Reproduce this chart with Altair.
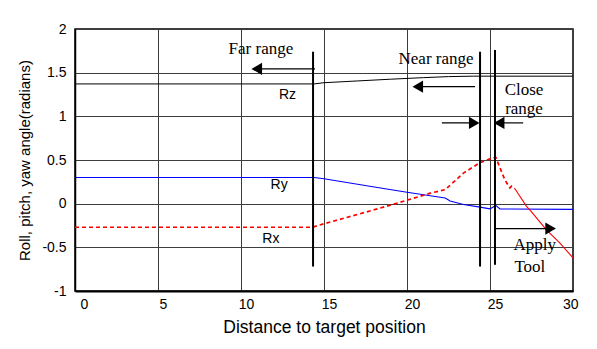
import altair as alt
import pandas as pd

# ---- series data ----
rz_x = [0, 14.4, 15, 17, 19, 21, 22.5, 24, 30]
rz_y = [1.371, 1.371, 1.385, 1.405, 1.425, 1.443, 1.455, 1.46, 1.46]

ry_x = [0, 14.4, 15, 18.4, 20, 21.4, 22.3, 22.6, 23.4, 24.4, 25, 25.35, 25.6, 30]
ry_y = [0.30, 0.30, 0.285, 0.18, 0.13, 0.09, 0.065, 0.03, -0.01, -0.04, -0.06, -0.02, -0.06, -0.065]

rx_dash_x = [0, 14.3, 15, 18.4, 20, 21.4, 22.3, 23.4, 24.4, 25.1, 25.35, 25.6, 25.9, 26.2, 26.3, 26.5]
rx_dash_y = [-0.27, -0.27, -0.23, -0.05, 0.04, 0.12, 0.16, 0.35, 0.47, 0.52, 0.53, 0.41, 0.27, 0.18, 0.20, 0.17]
rx_solid_x = [26.5, 27.2, 27.4, 28.4, 29.2, 30]
rx_solid_y = [0.17, -0.03, -0.07, -0.30, -0.45, -0.62]

# ---- annotations ----
vline_x = [14.34, 24.4, 25.3]
vline_top = [1.74, 1.74, 1.76]
vline_bot = [-0.72, -0.72, -0.70]

arrow_from = [14.46, 24.1, 22.1, 27.0, 25.3]
arrow_to = [10.95, 20.65, 24.05, 25.55, 28.65]
arrow_y = [1.543, 1.34, 0.925, 0.925, -0.285]
arrow_dir = ["left", "left", "right", "left", "right"]

note_text = ["Far range", "Near range", "Close", "range", "Apply", "Tool"]
note_x = [11.2, 21.75, 27.05, 27.05, 27.7, 27.4]
note_y = [1.77, 1.66, 1.30, 1.08, -0.47, -0.72]

series_text = ["Rz", "Ry", "Rx"]
series_tx = [12.8, 12.3, 11.8]
series_ty = [1.245, 0.21, -0.40]

x_ticks = [0, 5, 10, 15, 20, 25, 30]
y_ticks = [-1, -0.5, 0, 0.5, 1, 1.5, 2]

xs = alt.Scale(domain=[0, 30], nice=False, zero=False)
ys = alt.Scale(domain=[-1, 2], nice=False, zero=False)

X = alt.X("x:Q", scale=xs, axis=alt.Axis(values=x_ticks, title="Distance to target position",
                                          grid=True, ticks=False, labelOffset=5, labelPadding=6,
                                          titlePadding=7, titleFontSize=17.5,
                                          domainWidth=2, domainColor="black"))
Y = alt.Y("y:Q", scale=ys, axis=alt.Axis(values=y_ticks, title="Roll, pitch, yaw angle(radians)",
                                          grid=True, ticks=False, labelPadding=9, titlePadding=9,
                                          labelExpr="datum.value + ''",
                                          domainWidth=1.5, domainColor="black"))

rz_df = pd.DataFrame({"x": rz_x, "y": rz_y})
ry_df = pd.DataFrame({"x": ry_x, "y": ry_y})
rxd_df = pd.DataFrame({"x": rx_dash_x, "y": rx_dash_y})
rxs_df = pd.DataFrame({"x": rx_solid_x, "y": rx_solid_y})

base_axes = alt.Chart(rz_df).mark_line(color="black", strokeWidth=1).encode(x=X, y=Y)
ry_line = alt.Chart(ry_df).mark_line(color="#0000ff", strokeWidth=1.1).encode(x="x:Q", y="y:Q")
rx_dash = alt.Chart(rxd_df).mark_line(color="#ff0000", strokeWidth=1.7, strokeDash=[4, 3]).encode(x="x:Q", y="y:Q")
rx_solid = alt.Chart(rxs_df).mark_line(color="#ff0000", strokeWidth=1.1).encode(x="x:Q", y="y:Q")

vl_df = pd.DataFrame({"x": vline_x, "y": vline_top, "y2": vline_bot})
vlines = alt.Chart(vl_df).mark_rule(color="black", strokeWidth=2).encode(x="x:Q", y="y:Q", y2="y2:Q")

ar_df = pd.DataFrame({"x": arrow_from, "x2": arrow_to, "y": arrow_y, "dir": arrow_dir})
ar_lines = alt.Chart(ar_df).mark_rule(color="black", strokeWidth=1.2).encode(x="x:Q", x2="x2:Q", y="y:Q")
ar_left = alt.Chart(ar_df).transform_filter(alt.datum.dir == "left").mark_point(
    shape="triangle-left", filled=True, color="black", opacity=1, size=150).encode(x="x2:Q", y="y:Q")
ar_right = alt.Chart(ar_df).transform_filter(alt.datum.dir == "right").mark_point(
    shape="triangle-right", filled=True, color="black", opacity=1, size=150).encode(x="x2:Q", y="y:Q")

nt_df = pd.DataFrame({"t": note_text, "x": note_x, "y": note_y})
notes = alt.Chart(nt_df).mark_text(font="Liberation Serif", fontSize=17, color="black",
                                   align="center", baseline="middle").encode(x="x:Q", y="y:Q", text="t:N")

st_df = pd.DataFrame({"t": series_text, "x": series_tx, "y": series_ty})
slabels = alt.Chart(st_df).mark_text(font="Liberation Sans", fontSize=14, color="black",
                                     align="center", baseline="middle").encode(x="x:Q", y="y:Q", text="t:N")

chart = alt.layer(base_axes, ry_line, rx_dash, rx_solid, vlines, ar_lines, ar_left, ar_right,
                  notes, slabels).properties(
    width=498, height=262, autosize="none",
    padding={"left": 75, "top": 29, "right": 24, "bottom": 58},
    background="white",
).configure_view(stroke="black", strokeWidth=1.5).configure_axis(
    labelFont="Liberation Sans", labelFontSize=14, labelColor="black",
    titleFont="Liberation Sans", titleFontSize=15, titleColor="black", titleFontWeight="normal",
    gridColor="#3c3c3c", gridWidth=1, gridOpacity=1,
)

chart.save("out.html", embed_options={"renderer": "svg", "actions": False})
